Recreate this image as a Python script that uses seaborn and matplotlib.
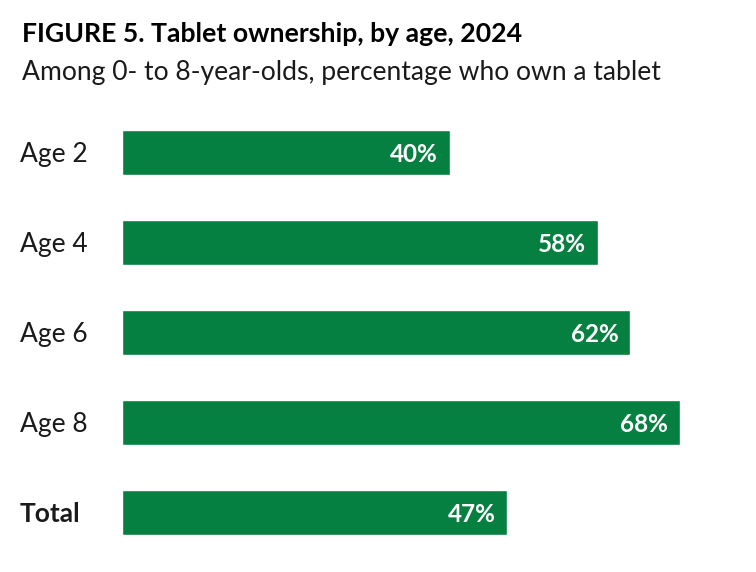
import matplotlib
matplotlib.use("Agg")
import matplotlib.pyplot as plt
import seaborn as sns
import pandas as pd
from matplotlib.transforms import offset_copy

categories = ["Age 2", "Age 4", "Age 6", "Age 8", "Total"]
values = [40, 58, 62, 68, 47]
value_labels = ["40%", "58%", "62%", "68%", "47%"]
title = "FIGURE 5. Tablet ownership, by age, 2024"
subtitle = "Among 0- to 8-year-olds, percentage who own a tablet"

sns.set_theme(style="white")
plt.rcParams['font.family'] = ['Lato', 'DejaVu Sans']

GREEN = "#068040"
W, H = 756, 572
fig = plt.figure(figsize=(W/100, H/100), dpi=100)
ax = fig.add_axes([122/W, 1-557/H, (W-122)/W, 450/H])

df = pd.DataFrame({"category": categories, "value": values})
sns.barplot(data=df, x="value", y="category", orient="h", color=GREEN,
            width=0.5, saturation=1, ax=ax)

ax.set_xlim(0, (W-122)/8.2)
ax.set_ylim(4.5, -0.5)
ax.set_xlabel("")
ax.set_ylabel("")
ax.set_xticks([])
for s in ax.spines.values():
    s.set_visible(False)

ax.tick_params(axis='y', length=0, pad=(122-20)*0.72)
ax.set_yticks(range(len(categories)))
ax.set_yticklabels(categories)
for i, lab in enumerate(ax.get_yticklabels()):
    lab.set_horizontalalignment('left')
    lab.set_fontsize(19)
    lab.set_color('#1a1a1a')
    if categories[i] == "Total":
        lab.set_fontweight('bold')

for i, (v, t) in enumerate(zip(values, value_labels)):
    tr = offset_copy(ax.transData, fig=fig, x=-12*0.72, y=0, units='points')
    ax.text(v, i, t, transform=tr, ha='right', va='center_baseline',
            color='white', fontsize=17.5, fontweight='bold')

fig.text(22/W, 1-42/H, title, fontsize=19.2, fontweight='bold', color='black',
         ha='left', va='baseline')
fig.text(22/W, 1-80/H, subtitle, fontsize=19.1, color='#1a1a1a',
         ha='left', va='baseline')

fig.savefig("out.png", dpi=100, facecolor='white')
